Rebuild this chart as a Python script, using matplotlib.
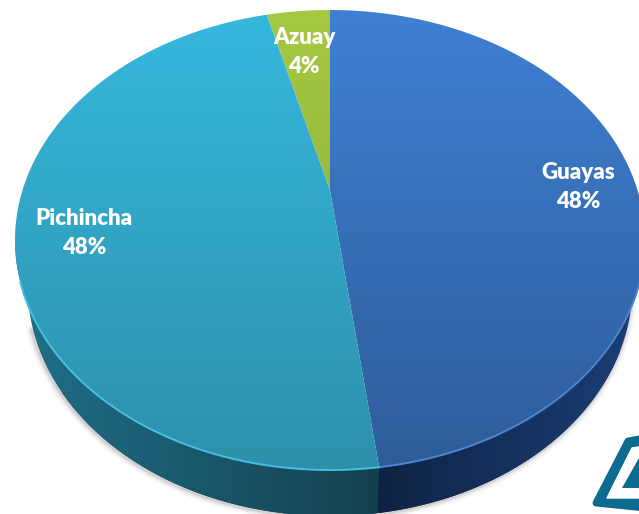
import matplotlib
matplotlib.use('Agg')
import matplotlib.pyplot as plt
import numpy as np
from matplotlib.colors import LinearSegmentedColormap
from matplotlib.patches import PathPatch, Polygon
from matplotlib.path import Path

plt.rcParams['font.family'] = ['Lato', 'DejaVu Sans']

# data
provinces = ['Guayas', 'Pichincha', 'Azuay']
shares = [48, 48, 4]

# top -> bottom colours of the face, left -> right colours of the wall
face_colors = [('#3f80d4', '#2e5c98'), ('#36b8de', '#2d90aa'), ('#a6c843', '#86a834')]
wall_colors = [('#0f2444', '#1b3f78'), ('#1f7089', '#143f4e'), ('#1f7089', '#143f4e')]
rim_colors = ['#4a86d2', '#45c0e2', '#a6c843']
label_pos = [(578, 187), (84, 233), (304, 52)]

# ellipse of the top face, in pixels
cx, cy, rx, ry = 330, 240, 315, 230
tilt = 0.217
depth = 46
wall_scale = 0.96  # bottom edge of the wall is a bit narrower than the face


def project(pts):
    # perspective view of the unit circle: the pie centre ends up above the ellipse centre
    w = 1 + tilt * pts[:, 1]
    xs = cx + rx * np.sqrt(1 - tilt ** 2) * pts[:, 0] / w
    ys = cy - ry * (pts[:, 1] + tilt) / w
    return np.column_stack([xs, ys])


def drop(pts):
    return np.column_stack([cx + (pts[:, 0] - cx) * wall_scale, pts[:, 1] + depth])


def gradient_fill(ax, poly, c0, c1, extent, horizontal=False, zorder=2):
    cmap = LinearSegmentedColormap.from_list('g', [c0, c1])
    grad = np.linspace(0, 1, 256)
    grad = grad.reshape(1, -1) if horizontal else grad.reshape(-1, 1)
    im = ax.imshow(grad, cmap=cmap, extent=extent, aspect='auto', origin='upper',
                   zorder=zorder, interpolation='bilinear')
    patch = PathPatch(Path(np.vstack([poly, poly[:1]])), fc='none', ec='none', zorder=zorder)
    ax.add_patch(patch)
    im.set_clip_path(patch)


fig = plt.figure(figsize=(6.39, 5.14), dpi=100)
ax = fig.add_axes([0, 0, 1, 1])
wedges, _ = ax.pie(shares, startangle=90, counterclock=False, radius=1)

arcs = []
for wedge in wedges:
    t = np.radians(np.linspace(wedge.theta1, wedge.theta2, 200))
    arcs.append(project(np.column_stack([np.cos(t), np.sin(t)])))
    wedge.remove()
centre = project(np.array([[0.0, 0.0]]))

ax.set_aspect('auto')
ax.set_xlim(0, 639)
ax.set_ylim(514, 0)
ax.axis('off')

# soft shadow under the wall
theta = np.linspace(0, 0.94 * np.pi, 400)
edge = drop(np.column_stack([cx + rx * np.cos(theta), cy + ry * np.sin(theta)]))
for lw, a in [(8, 0.04), (5, 0.07), (2.5, 0.12)]:
    ax.plot(edge[:, 0] - 1, edge[:, 1] + 1, color='#303030', lw=lw, alpha=a, zorder=1,
            solid_capstyle='round')

# dark backing so no gap shows at the seam between the wall pieces
full = np.column_stack([cx + rx * np.cos(theta), cy + ry * np.sin(theta)])
ax.add_patch(Polygon(np.vstack([full[40:-40], drop(full[40:-40])[::-1]]), closed=True,
                     fc='#12283f', ec='none', zorder=1.5))

# side wall
for arc, (c0, c1) in zip(arcs, wall_colors):
    rim = arc[arc[:, 1] >= cy]
    if len(rim) < 2:
        continue
    rim = rim[np.argsort(rim[:, 0])]
    wall = np.vstack([rim, drop(rim)[::-1]])
    gradient_fill(ax, wall, c0, c1, (rim[0, 0], rim[-1, 0], 560, 200), horizontal=True)

# top face
for arc, (c0, c1), rc in zip(arcs, face_colors, rim_colors):
    face = np.vstack([centre, arc])
    gradient_fill(ax, face, c0, c1, (0, 639, cy + ry, cy - ry), zorder=3)
    rim = arc[arc[:, 1] > cy + 40]
    if len(rim) > 1:
        rim = rim[np.argsort(rim[:, 0])]
        ax.plot(rim[:, 0], rim[:, 1], color=rc, lw=1.4, zorder=4)

# labels
for name, share, (lx, ly) in zip(provinces, shares, label_pos):
    ax.text(lx, ly, f'{name}\n{share}%', color='white', fontsize=16, fontweight='heavy',
            ha='center', va='center', linespacing=1.45, zorder=6)

# corner logo
ax.add_patch(Polygon([(596, 503), (628, 441), (645, 438), (645, 508)], closed=True, fc='#0d6b90',
                     ec='#0d6b90', lw=5, joinstyle='round', zorder=5))
ax.add_patch(Polygon([(607, 498), (632, 448), (645, 446), (645, 498)], closed=True, fc='white',
                     ec='white', lw=1, joinstyle='round', zorder=5))
ax.add_patch(Polygon([(622, 488), (639, 458), (645, 450), (645, 488)], closed=True, fc='#0d6b90',
                     ec='none', zorder=5))

fig.savefig('out.png', dpi=100)
